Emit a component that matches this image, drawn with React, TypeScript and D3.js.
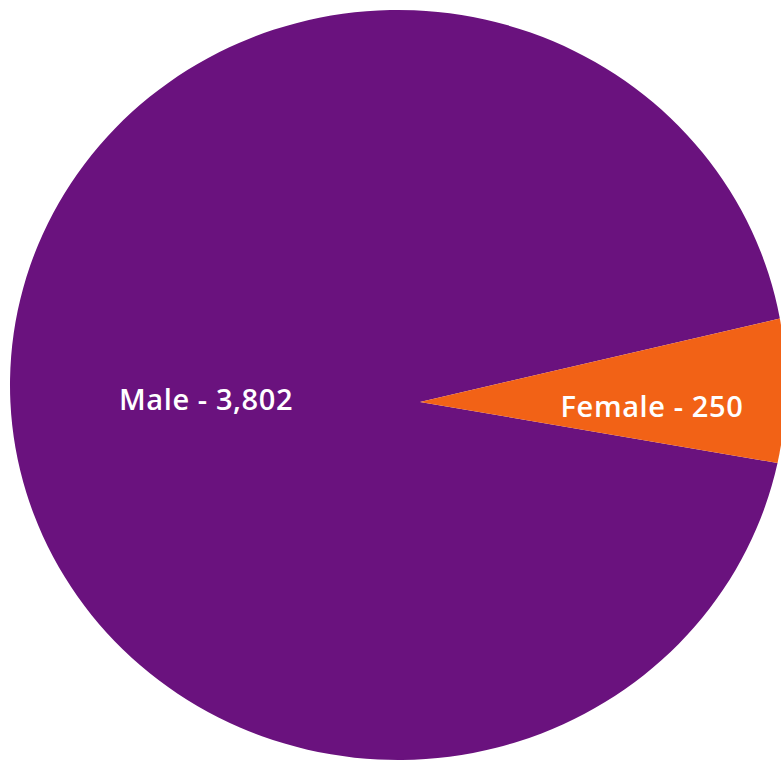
import * as React from "react";
import * as d3 from "d3";

const categories = ["Male", "Female"];
const values = [3802, 250];
const colors = ["#6a127e", "#f26216"];

const width = 781;
const height = 761;

// outline is a slightly wide ellipse, slices meet a bit right of its centre
const cx = 398;
const cy = 385;
const ry = 375;
const rx = 388;
const apexX = 420;
const apexY = 402;

const startDeg = 102;

export default function App() {
  const sx = rx / ry;

  const slices = React.useMemo(() => {
    const start = (startDeg * Math.PI) / 180;
    return d3
      .pie<number>()
      .sort(null)
      .startAngle(start)
      .endAngle(start + Math.PI * 2)(values);
  }, []);

  // apex in the scaled (circle) coordinate system
  const ax = (apexX - cx) / sx;
  const ay = apexY - cy;

  const slicePath = (a0: number, a1: number) => {
    const p = d3.path();
    p.moveTo(ax, ay);
    p.lineTo(ry * Math.sin(a0), -ry * Math.cos(a0));
    // d3.path arc uses angle from +x axis, pie angles start at 12 o'clock
    p.arc(0, 0, ry, a0 - Math.PI / 2, a1 - Math.PI / 2, false);
    p.closePath();
    return p.toString();
  };

  const labelArc = d3
    .arc<d3.PieArcDatum<number>>()
    .innerRadius(0)
    .outerRadius(446);

  return (
    <svg
      width={width}
      height={height}
      style={{ position: "absolute", left: 0, top: 0, display: "block" }}
    >
      <g transform={`translate(${cx},${cy}) scale(${sx},1)`}>
        {slices.map((d, i) => (
          <path
            key={categories[i]}
            d={slicePath(d.startAngle, d.endAngle)}
            fill={colors[i]}
          />
        ))}
      </g>
      <g transform={`translate(${apexX + 9},${apexY})`}>
        {slices.map((d, i) => {
          const [lx, ly] = labelArc.centroid(d);
          return (
            <text
              key={categories[i]}
              x={lx}
              y={ly}
              textAnchor="middle"
              dominantBaseline="central"
              fill="#fff"
              fontFamily="'Open Sans', sans-serif"
              fontWeight={600}
              fontSize={29}
              letterSpacing={0.6}
            >
              {`${categories[i]} - ${d3.format(",")(values[i])}`}
            </text>
          );
        })}
      </g>
    </svg>
  );
}
